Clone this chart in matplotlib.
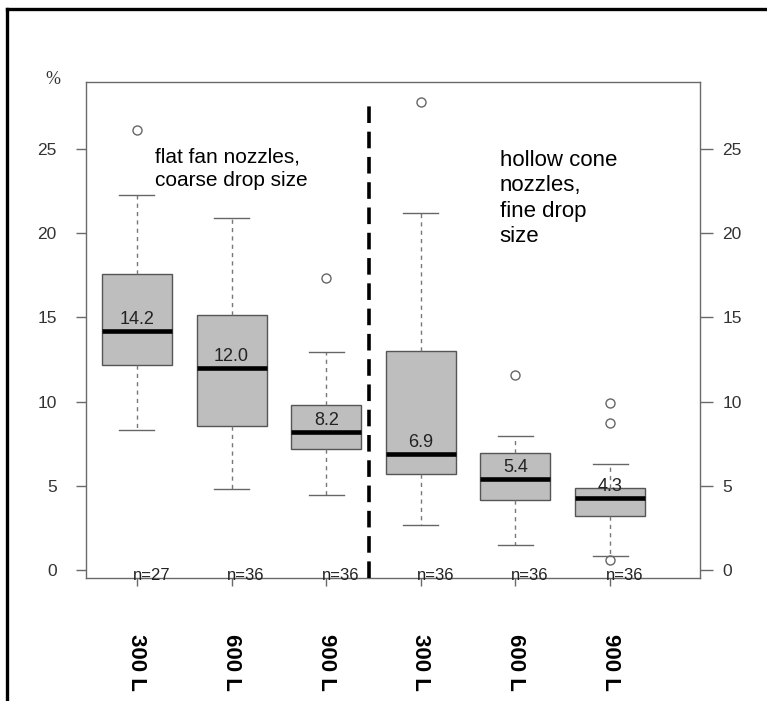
import matplotlib
matplotlib.use("Agg")
import matplotlib.pyplot as plt
from matplotlib.lines import Line2D

plt.rcParams['font.family'] = ['Liberation Sans', 'DejaVu Sans']

# values
labels = ["300 L", "600 L", "900 L", "300 L", "600 L", "900 L"]
medians = [14.2, 12.0, 8.2, 6.9, 5.4, 4.3]
q1 = [12.2, 8.55, 7.2, 5.7, 4.15, 3.2]
q3 = [17.6, 15.15, 9.8, 13.0, 6.95, 4.85]
whis_lo = [8.3, 4.8, 4.45, 2.65, 1.5, 0.85]
whis_hi = [22.25, 20.9, 12.95, 21.2, 7.95, 6.3]
outliers = [[26.1], [], [17.35], [27.8], [11.6], [9.9, 8.75, 0.6]]
n_obs = [27, 36, 36, 36, 36, 36]
yticks = [0, 5, 10, 15, 20, 25]

W, H = 767, 701
fig = plt.figure(figsize=(W / 100, H / 100), dpi=100)
ax = fig.add_axes([86 / W, 1 - 578 / H, (700 - 86) / W, (578 - 82) / H])

stats = []
for i in range(len(labels)):
    stats.append({"med": medians[i], "q1": q1[i], "q3": q3[i],
                  "whislo": whis_lo[i], "whishi": whis_hi[i],
                  "fliers": outliers[i], "label": labels[i]})

pos = list(range(1, len(labels) + 1))
ax.bxp(stats, positions=pos, widths=0.74, patch_artist=True, showfliers=True,
       boxprops=dict(facecolor="#bebebe", edgecolor="#555555", linewidth=1),
       medianprops=dict(color="black", linewidth=3.3, solid_capstyle="butt"),
       whiskerprops=dict(color="#777777", linewidth=1, linestyle=(0, (3, 3))),
       capprops=dict(color="#666666", linewidth=1),
       flierprops=dict(marker="o", markersize=6.5, markerfacecolor="none",
                       markeredgecolor="#666666", markeredgewidth=1),
       capwidths=0.37)

# median value labels and n= labels
for p, m, n in zip(pos, medians, n_obs):
    ax.text(p, m + 0.15, f"{m:.1f}", ha="center", va="bottom", fontsize=13, color="#222222")
    ax.text(p - 0.045, -0.6, f"n={n}", ha="left", va="baseline", fontsize=12,
            color="#222222", clip_on=False, zorder=5)

# divider between nozzle types
ax.plot([3.45, 3.45], [-0.48, 27.6], color="black", linewidth=2.6,
        linestyle=(0, (4.6, 2.4)), zorder=4)

ax.text(0.112, 0.867, "flat fan nozzles,\ncoarse drop size", transform=ax.transAxes,
        ha="left", va="top", fontsize=15, linespacing=1.25)
ax.text(0.674, 0.863, "hollow cone\nnozzles,\nfine drop\nsize", transform=ax.transAxes,
        ha="left", va="top", fontsize=16, linespacing=1.28)

ax.set_xlim(0.461, 6.951)
ax.set_ylim(-0.48, 28.98)

for s in ax.spines.values():
    s.set_color("#6a6a6a")
    s.set_linewidth(1)

ax.set_yticks(yticks)
ax.set_yticklabels([str(t) for t in yticks])
ax.tick_params(axis="y", direction="out", length=7, width=1, color="#6a6a6a",
               pad=14, labelsize=12.5, labelcolor="#333333")

ax.set_xticks(pos)
ax.set_xticklabels(labels, rotation=270, fontweight="bold", fontsize=16)
ax.tick_params(axis="x", direction="out", length=6, width=1, color="#6a6a6a",
               pad=34)

ax2 = ax.twinx()
ax2.set_ylim(ax.get_ylim())
ax2.set_yticks(yticks)
ax2.set_yticklabels([str(t) for t in yticks])
ax2.tick_params(axis="y", direction="out", length=9, width=1, color="#6a6a6a",
                pad=7, labelsize=12.5, labelcolor="#333333")
for s in ax2.spines.values():
    s.set_visible(False)

fig.text(53 / W, 1 - 80 / H, "%", ha="center", va="center", fontsize=13,
         family="Liberation Serif", color="#333333")

# outer frame (only left and top edges visible)
fig.add_artist(Line2D([7 / W, 7 / W], [0, 1 - 9 / H], color="black", linewidth=2.4,
                      transform=fig.transFigure))
fig.add_artist(Line2D([7 / W, 1], [1 - 9 / H, 1 - 9 / H], color="black", linewidth=2.4,
                      transform=fig.transFigure))

fig.savefig("out.png", dpi=100)
